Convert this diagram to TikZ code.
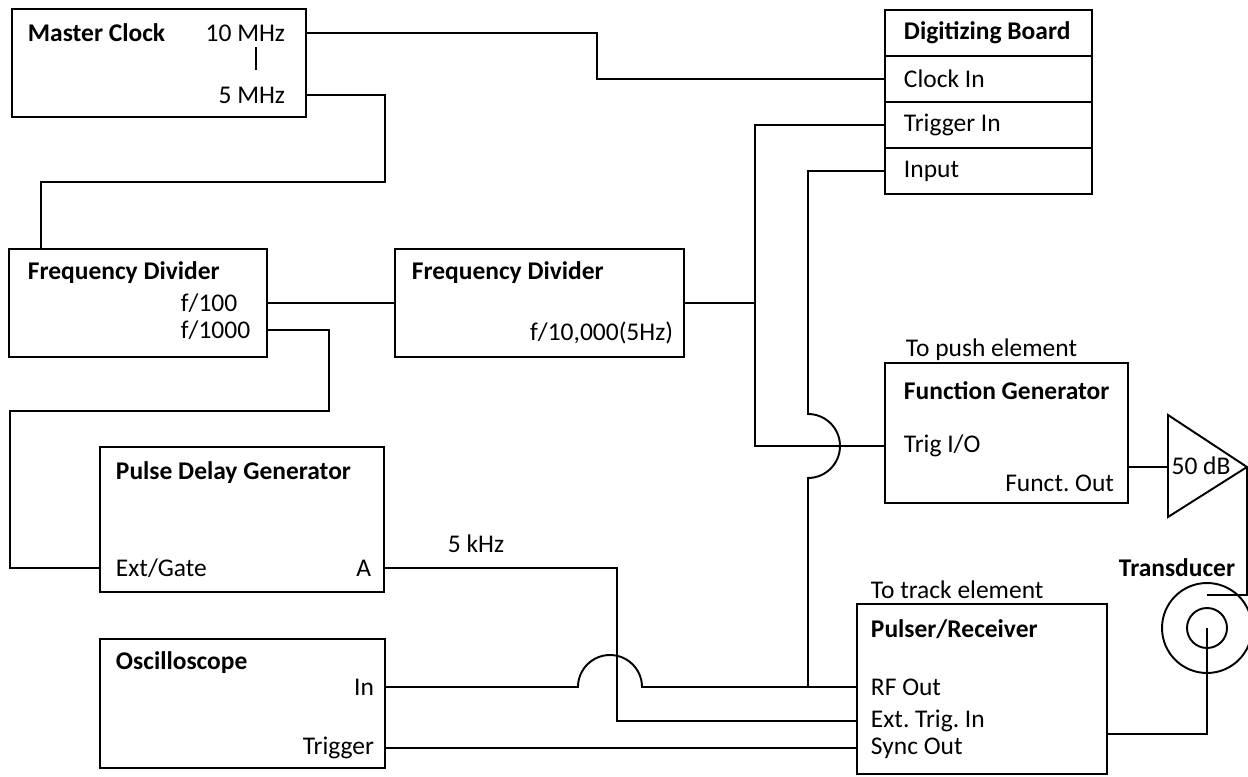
\documentclass[tikz,border=0pt]{standalone}
\usepackage{fontspec}
\setmainfont{Carlito}
\tikzset{
  blk/.style={draw, inner sep=0pt, outer sep=0pt},
  row/.style={draw, minimum width=4.14cm, minimum height=0.92cm, inner sep=0pt, outer sep=0pt, anchor=north},
  lbl/.style={inner sep=0pt},
  hd/.style={inner sep=0pt, font=\fontsize{14.5}{17}\selectfont\bfseries},
}
\begin{document}
\frenchspacing
\begin{tikzpicture}[x=0.02cm, y=-0.02cm, line width=1.1pt, font=\fontsize{14.5}{17}\selectfont]
\useasboundingbox (0,0) rectangle (1248,777);
% master clock
\node[blk, minimum width=5.88cm, minimum height=2.16cm] (mclk) at (159,63) {};
\node[hd, anchor=west] (mclkt) at (27,33) {Master Clock};
\node[lbl, anchor=east] (t10) at (286,33) {10 MHz};
\node[lbl, anchor=east] (t5) at (286,95) {5 MHz};
\draw (256,47) -- (256,70);
% digitizing board
\node[row] (digi) at (988.5,10) {};
\node[row] (clkin) at (digi.south) {};
\node[row] (trigin) at (clkin.south) {};
\node[row] (inp) at (trigin.south) {};
\node[hd, anchor=west] (digit) at ([xshift=0.36cm]digi.west) {Digitizing Board};
\node[lbl, anchor=west] (clkt) at ([xshift=0.36cm]clkin.west) {Clock In};
\node[lbl, anchor=west] (trigt) at ([xshift=0.36cm]trigin.west) {Trigger In};
\node[lbl, anchor=west] (inpt) at ([xshift=0.36cm]inp.west) {Input};
% dividers
\node[blk, minimum width=5.16cm, minimum height=2.16cm] (fd1) at (138,303) {};
\node[hd, anchor=west] (fd1t) at (27,273) {Frequency Divider};
\node[lbl, anchor=west] (f100) at (180,303) {f/100};
\node[lbl, anchor=west] (f1000) at (180,330) {f/1000};
\node[blk, minimum width=5.78cm, minimum height=2.16cm] (fd2) at (539.5,303) {};
\node[hd, anchor=west] (fd2t) at (411,273) {Frequency Divider};
\node[lbl, anchor=east] (f10k) at (674,333) {f/10,000(5Hz)};
% function generator
\node[blk, minimum width=4.86cm, minimum height=2.8cm] (fgen) at (1006.5,433) {};
\node[lbl, anchor=west] (push) at (905,350) {To push element};
\node[hd, anchor=west] (fgent) at (903,391) {Function Generator};
\node[lbl, anchor=west] (tio) at (903,446) {Trig I/O};
\node[lbl, anchor=east] (fout) at (1115,483) {Funct. Out};
% pulse delay generator
\node[blk, minimum width=5.68cm, minimum height=2.9cm] (pdg) at (242,519.5) {};
\node[hd, anchor=west] (pdgt) at (115,473) {Pulse Delay Generator};
\node[lbl, anchor=west] (egate) at (115,568) {Ext/Gate};
\node[lbl, anchor=east] (ta) at (372,568) {A};
\node[lbl, anchor=west] (khz) at (447,544) {5 kHz};
% oscilloscope
\node[blk, minimum width=5.7cm, minimum height=2.58cm] (osc) at (242.5,703.5) {};
\node[hd, anchor=west] (osct) at (115,663) {Oscilloscope};
\node[lbl, anchor=east] (oin) at (375,687) {In};
\node[lbl, anchor=east] (otrig) at (375,748) {Trigger};
% pulser/receiver
\node[blk, minimum width=5cm, minimum height=3.4cm] (pulser) at (982,689) {};
\node[lbl, anchor=west] (track) at (870,590) {To track element};
\node[hd, anchor=west] (pulsert) at (870,629) {Pulser/Receiver};
\node[lbl, anchor=west] (rfo) at (870,687) {RF Out};
\node[lbl, anchor=west] (etin) at (870,721) {Ext. Trig. In};
\node[lbl, anchor=west] (sync) at (870,748) {Sync Out};
% amplifier and transducer
\draw (1168,415) -- (1247,467) -- (1168,517) -- cycle;
\coordinate (ampin) at (1168,467);
\coordinate (ampout) at (1247,467);
\node[lbl] (gain) at (1201,466) {50 dB};
\node[hd] (xlbl) at (1177,568) {Transducer};
\node[circle, draw, minimum size=1.8cm, inner sep=0pt] (xdcr) at (1207,628) {};
\node[circle, draw, minimum size=0.8cm, inner sep=0pt] (xin) at (xdcr) {};
\coordinate (xtap) at (1207,595);
\coordinate (jn) at (755,303);
% wires
\draw (mclk.east |- t10) -| (597,79) -- (clkin.west);
\draw (mclk.east |- t5) -| (385,182) -| ([xshift=0.64cm]fd1.north west);
\draw (fd1.east |- f100) -- (fd2.west |- f100);
\draw (fd1.east |- f1000) -| (329,411) -| (10,568) -- (pdg.west |- egate);
\draw (fd2.east) -- (jn);
\draw (trigin.west) -- (755,125) |- (fgen.west |- tio);
\draw (inp.west) -| (808,414) arc[start angle=90, end angle=-90, radius=0.64cm] -- (808,687);
\draw (osc.east |- oin) -- (578,687) arc[start angle=180, end angle=0, radius=0.64cm] -- (pulser.west |- rfo);
\draw (pdg.east |- ta) -| (617,721) -- (pulser.west |- etin);
\draw (osc.east |- otrig) -- (pulser.west |- sync);
\draw (fgen.east |- ampin) -- (ampin);
\draw (ampout) |- (xtap);
\draw (xin.center) |- ([yshift=-0.9cm]pulser.east);
\end{tikzpicture}
\end{document}
